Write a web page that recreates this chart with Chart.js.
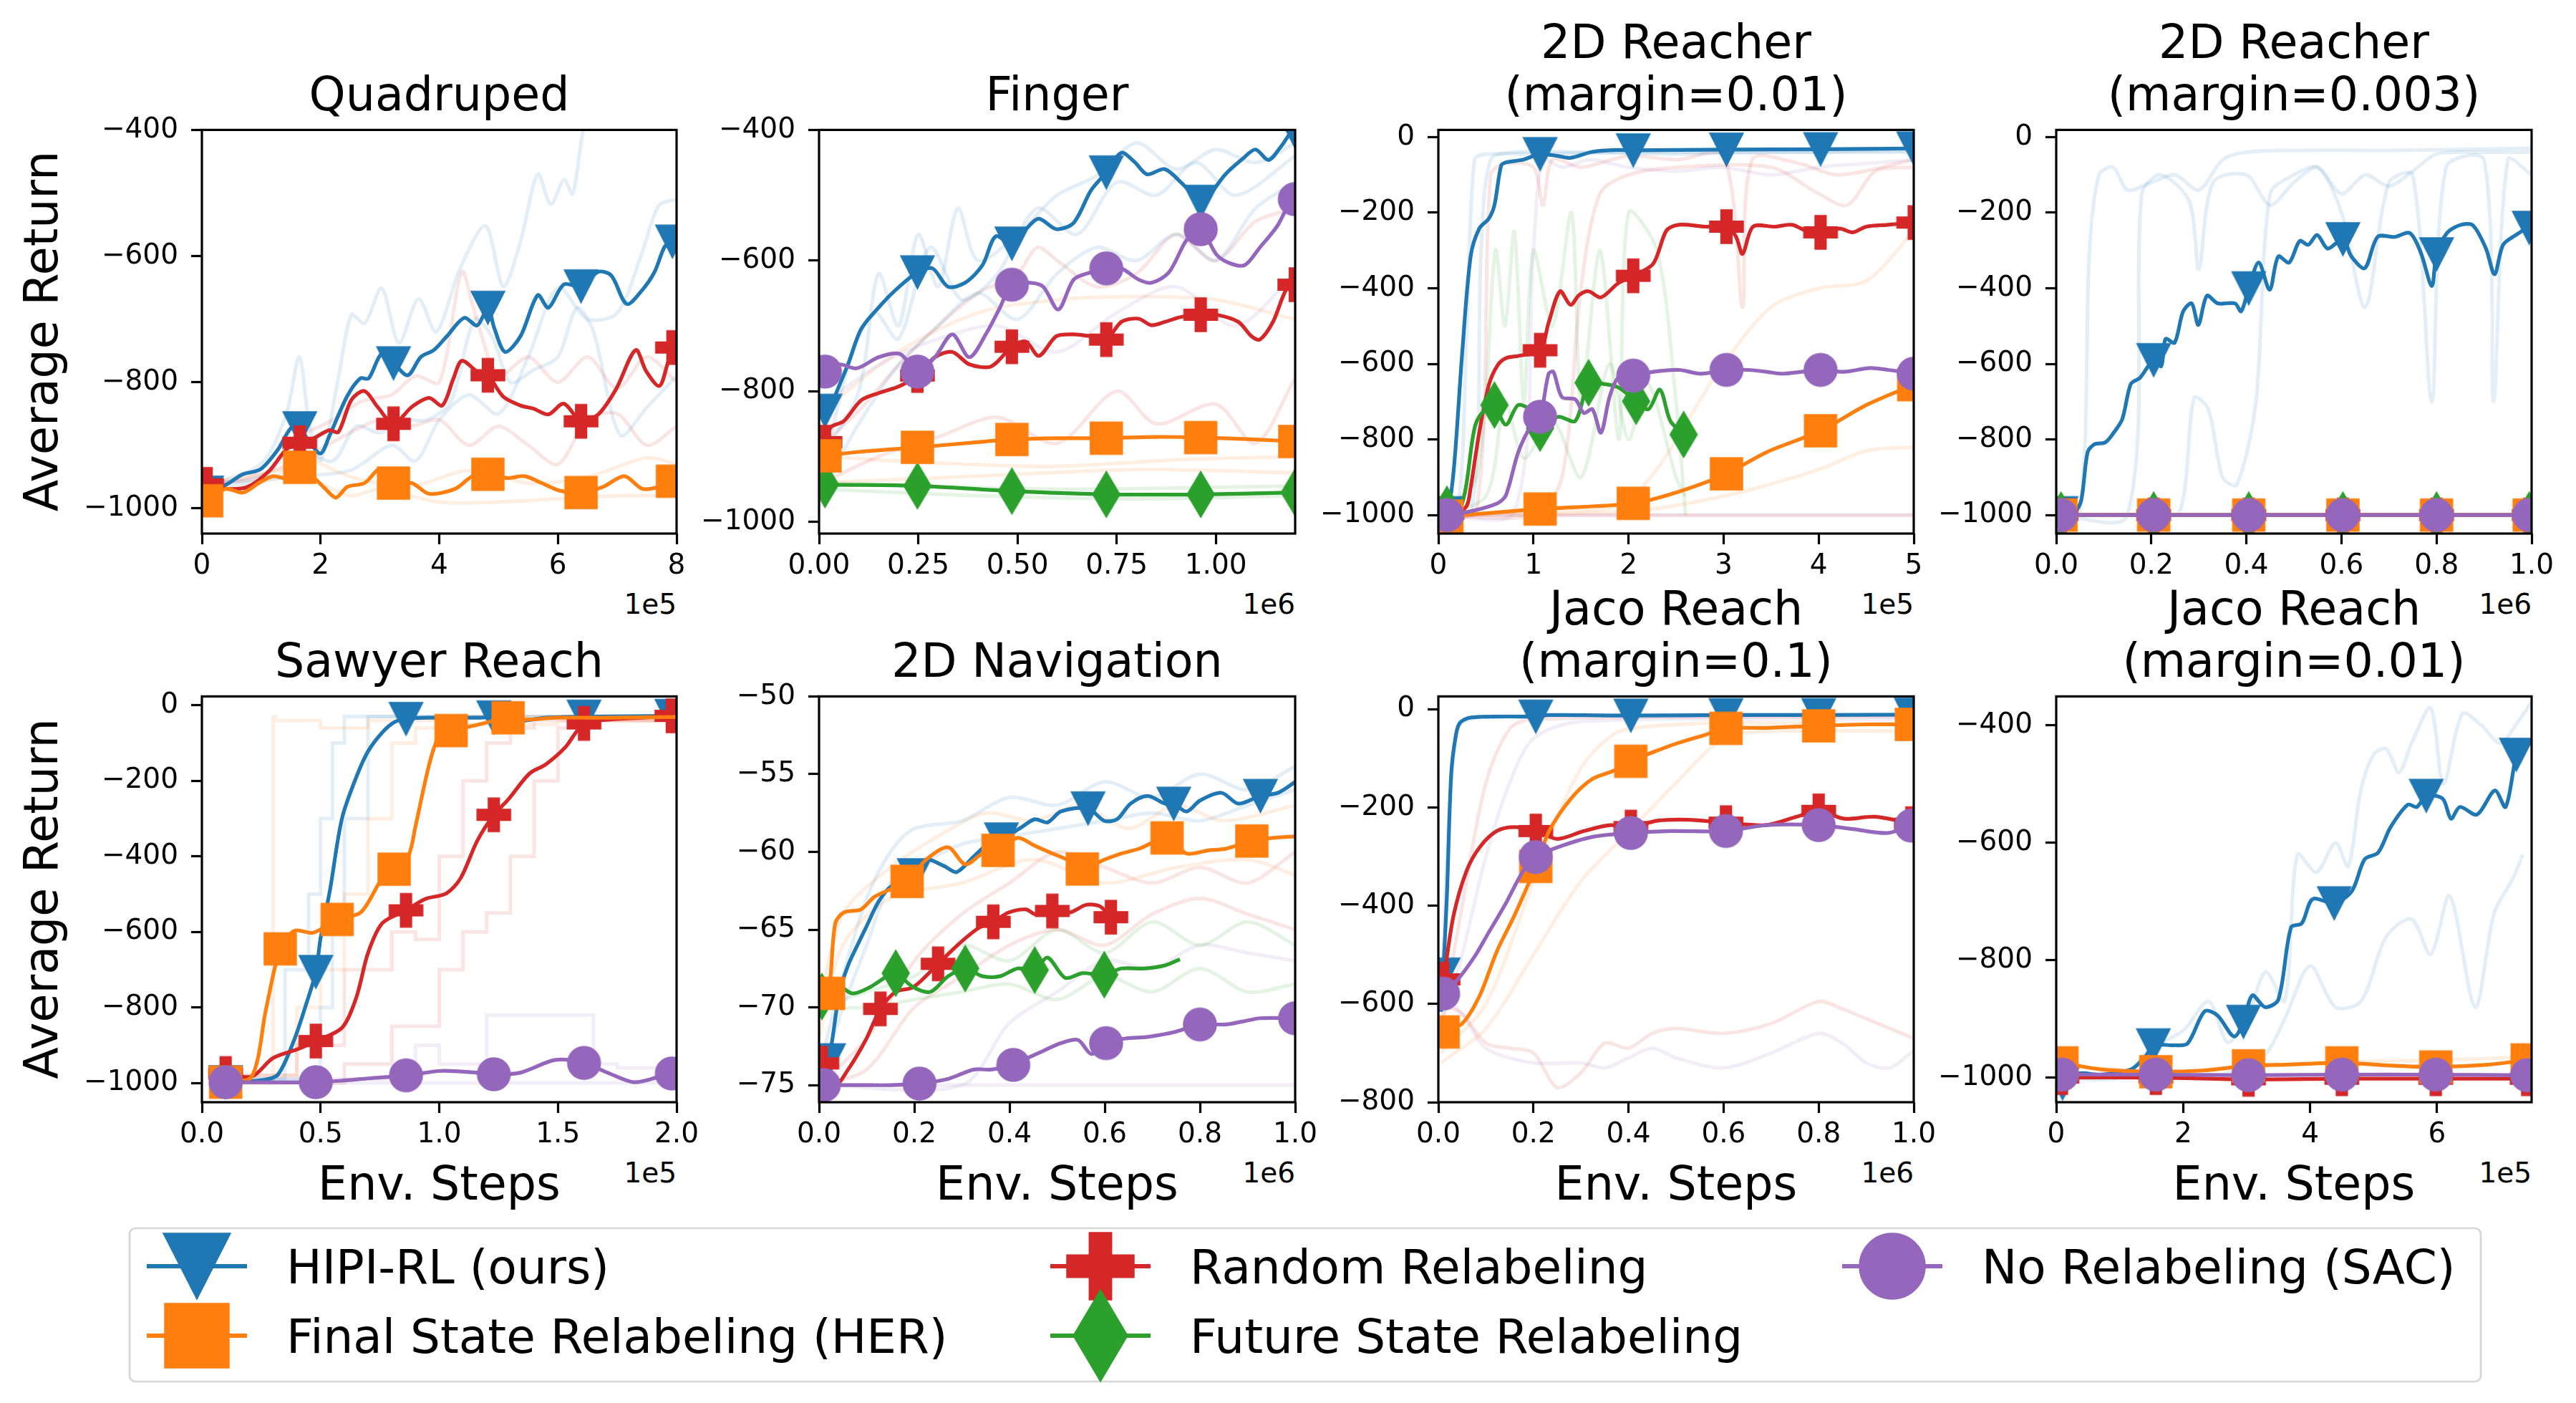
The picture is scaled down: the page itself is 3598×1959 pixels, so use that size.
<!DOCTYPE html>
<html><head><meta charset="utf-8">
<script src="https://cdn.jsdelivr.net/npm/chart.js@4"></script>
<style>
html,body{margin:0;padding:0;background:#fff;}
#page{position:relative;width:3598px;height:1959px;overflow:hidden;background:#fff;}
#ov{position:absolute;left:0;top:0;}
</style></head>
<body><div id="page"><svg id="ov" width="3598" height="1959" xmlns="http://www.w3.org/2000/svg"></svg></div>
<script>
// ---------------- DATA ----------------
const LEGEND_LABELS = ['HIPI-RL (ours)','Final State Relabeling (HER)','Random Relabeling','Future State Relabeling','No Relabeling (SAC)'];
const LEGEND_KEYS = ['hipi','her','rand','fut','sac'];
const Y_LABEL = 'Average Return';
const X_LABEL = 'Env. Steps';

// Quadruped (x in 1e5)
const QUAD_XT=[0,2,4,6,8], QUAD_XL=['0','2','4','6','8'];
const QUAD_YT=[-1000,-800,-600,-400], QUAD_YL=['\u22121000','\u2212800','\u2212600','\u2212400'];
const QUAD_MK=[0.08,1.65,3.23,4.82,6.39,7.93];
const QUAD_HIPI=[[0,-978],[0.08,-975],[0.4,-963],[0.69,-946],[0.99,-938],[1.28,-907],[1.5,-873],[1.65,-873],[1.8,-893],[2.0,-913],[2.15,-885],[2.45,-822],[2.67,-794],[2.81,-794],[3.03,-755],[3.23,-770],[3.47,-789],[3.69,-760],[3.91,-749],[4.13,-727],[4.42,-698],[4.64,-710],[4.82,-682],[4.93,-715],[5.11,-752],[5.37,-727],[5.66,-662],[5.84,-682],[6.1,-645],[6.39,-648],[6.68,-625],[6.9,-631],[7.16,-676],[7.42,-654],[7.63,-625],[7.8,-585],[7.93,-577],[8.0,-591]];
const QUAD_RAND=[[0,-958],[0.08,-962],[0.4,-969],[0.77,-966],[1.13,-941],[1.42,-907],[1.65,-896],[1.86,-890],[2.15,-876],[2.3,-879],[2.52,-828],[2.74,-814],[2.96,-839],[3.23,-866],[3.54,-839],[3.83,-825],[4.05,-837],[4.24,-794],[4.38,-766],[4.64,-783],[4.82,-789],[5.08,-823],[5.37,-837],[5.59,-842],[5.84,-851],[6.1,-834],[6.39,-862],[6.68,-851],[6.98,-811],[7.31,-749],[7.49,-783],[7.71,-806],[7.85,-770],[7.93,-745],[8.0,-727]];
const QUAD_HER=[[0,-986],[0.08,-988],[0.4,-969],[0.69,-975],[0.99,-958],[1.2,-949],[1.42,-952],[1.65,-935],[1.86,-949],[2.08,-969],[2.26,-983],[2.45,-966],[2.74,-960],[3.0,-938],[3.23,-960],[3.54,-960],[3.83,-977],[4.27,-969],[4.56,-949],[4.82,-946],[5.15,-952],[5.44,-949],[5.73,-960],[6.03,-972],[6.39,-975],[6.76,-966],[7.12,-949],[7.42,-969],[7.71,-966],[7.93,-957],[8.0,-955]];
const QUAD_FB1=[[0.05,-965],[0.99,-930],[1.42,-851],[1.64,-760],[1.8,-860],[2.0,-924],[2.3,-794],[2.52,-693],[2.74,-707],[3.03,-651],[3.32,-738],[3.65,-668],[3.95,-720],[4.35,-620],[4.78,-552],[5.08,-648],[5.37,-577],[5.66,-470],[5.88,-518],[6.1,-479],[6.25,-501],[6.43,-400],[6.7,-330],[8.0,-300]];
const QUAD_FB2=[[0.05,-960],[1.0,-950],[1.6,-905],[2.2,-925],[2.6,-870],[3.0,-880],[3.4,-860],[3.8,-860],[4.2,-830],[4.6,-700],[4.9,-730],[5.2,-800],[5.6,-780],[6.0,-760],[6.32,-682],[6.6,-720],[7.05,-884],[7.5,-840],[8.0,-790]];
const QUAD_FB3=[[0.05,-970],[1.5,-950],[2.5,-940],[3.2,-900],[3.6,-925],[4.0,-860],[4.5,-820],[5.0,-850],[5.5,-760],[6.0,-650],[6.5,-700],[7.0,-690],[7.4,-600],[7.7,-520],[8.0,-510]];
const QUAD_FR1=[[0.05,-960],[1.0,-950],[1.6,-890],[2.2,-860],[2.7,-830],[3.2,-820],[3.6,-790],[4.0,-800],[4.38,-625],[4.6,-690],[5.0,-790],[5.5,-760],[6.0,-800],[6.5,-760],[7.0,-810],[7.5,-760],[8.0,-800]];
const QUAD_FR2=[[0.05,-970],[1.5,-930],[2.5,-880],[3.0,-860],[3.5,-870],[4.0,-860],[4.5,-900],[5.0,-870],[5.5,-900],[6.0,-930],[6.5,-860],[7.0,-850],[7.5,-900],[8.0,-870]];
const QUAD_FO1=[[0.05,-975],[1.0,-960],[1.5,-940],[2.0,-960],[2.5,-980],[3.0,-970],[4.0,-990],[5.0,-990],[6.0,-985],[7.0,-980],[8.0,-980]];
const QUAD_FO2=[[0.05,-960],[1.3,-940],[1.7,-920],[2.5,-950],[3.5,-965],[4.5,-940],[5.5,-960],[6.5,-950],[7.5,-920],[8.0,-930]];

// Finger (x in 1e6)
const FING_XT=[0,0.25,0.5,0.75,1.0], FING_XL=['0.00','0.25','0.50','0.75','1.00'];
const FING_YT=[-1000,-800,-600,-400], FING_YL=['\u22121000','\u2212800','\u2212600','\u2212400'];
const FING_MK=[0.015,0.248,0.486,0.724,0.962,1.199];
const FING_HIPI=[[0,-840],[0.015,-830],[0.024,-836],[0.04,-808],[0.073,-759],[0.106,-705],[0.15,-672],[0.193,-645],[0.248,-618],[0.286,-612],[0.325,-640],[0.368,-634],[0.412,-607],[0.445,-563],[0.486,-574],[0.521,-552],[0.554,-536],[0.598,-552],[0.642,-542],[0.685,-493],[0.724,-465],[0.762,-435],[0.795,-449],[0.827,-468],[0.871,-460],[0.915,-482],[0.962,-510],[0.98,-503],[1.024,-468],[1.068,-444],[1.1,-430],[1.133,-446],[1.166,-424],[1.188,-405],[1.199,-402]];
const FING_SAC=[[0,-772],[0.015,-770],[0.051,-759],[0.095,-765],[0.15,-748],[0.204,-743],[0.248,-770],[0.292,-748],[0.336,-713],[0.379,-748],[0.423,-710],[0.456,-672],[0.486,-637],[0.532,-634],[0.565,-640],[0.603,-675],[0.642,-629],[0.685,-618],[0.724,-612],[0.762,-612],[0.805,-629],[0.838,-634],[0.882,-618],[0.926,-569],[0.962,-552],[1.002,-591],[1.035,-604],[1.073,-607],[1.111,-580],[1.155,-547],[1.188,-509],[1.199,-506]];
const FING_RAND=[[0,-885],[0.015,-878],[0.03,-855],[0.062,-846],[0.106,-814],[0.15,-803],[0.204,-792],[0.248,-776],[0.292,-748],[0.336,-740],[0.379,-759],[0.434,-762],[0.486,-732],[0.521,-724],[0.554,-746],[0.598,-716],[0.642,-713],[0.685,-716],[0.724,-721],[0.762,-694],[0.805,-689],[0.838,-699],[0.871,-694],[0.915,-686],[0.962,-683],[1.002,-683],[1.057,-694],[1.09,-716],[1.111,-721],[1.144,-694],[1.177,-645],[1.199,-637]];
const FING_HER=[[0,-900],[0.015,-899],[0.1,-893],[0.248,-886],[0.4,-878],[0.486,-874],[0.6,-872],[0.724,-872],[0.85,-870],[0.962,-871],[1.1,-874],[1.199,-877]];
const FING_FUT=[[0,-942],[0.015,-943],[0.248,-945],[0.486,-953],[0.724,-958],[0.962,-958],[1.199,-955]];
const FING_FB1=[[0.01,-900],[0.1,-800],[0.15,-620],[0.2,-700],[0.25,-560],[0.3,-640],[0.35,-520],[0.4,-600],[0.5,-560],[0.6,-500],[0.7,-470],[0.8,-420],[0.9,-460],[1.0,-430],[1.1,-450],[1.2,-420]];
const FING_FB2=[[0.01,-950],[0.1,-850],[0.2,-760],[0.3,-700],[0.4,-650],[0.5,-690],[0.6,-620],[0.7,-580],[0.8,-600],[0.9,-560],[1.0,-600],[1.1,-520],[1.2,-480]];
const FING_FB3=[[0.01,-920],[0.08,-750],[0.14,-680],[0.2,-720],[0.28,-580],[0.36,-660],[0.45,-620],[0.55,-520],[0.65,-560],[0.75,-480],[0.85,-500],[0.95,-450],[1.05,-500],[1.2,-440]];
const FING_FR1=[[0.01,-880],[0.1,-830],[0.2,-760],[0.3,-700],[0.4,-650],[0.5,-620],[0.55,-580],[0.6,-600],[0.7,-640],[0.8,-620],[0.9,-560],[1.0,-600],[1.1,-540],[1.2,-520]];
const FING_FR2=[[0.01,-940],[0.15,-900],[0.3,-870],[0.45,-840],[0.6,-880],[0.75,-800],[0.85,-850],[1.0,-820],[1.1,-880],[1.2,-780]];
const FING_FS1=[[0.01,-820],[0.15,-760],[0.3,-720],[0.45,-700],[0.6,-740],[0.75,-680],[0.9,-640],[1.05,-700],[1.2,-620]];
const FING_FO1=[[0.01,-830],[0.2,-740],[0.4,-680],[0.6,-660],[0.8,-655],[1.0,-660],[1.2,-690]];
const FING_FO2=[[0.01,-900],[0.3,-910],[0.6,-915],[0.9,-905],[1.2,-900]];
const FING_FO3=[[0.01,-940],[0.4,-930],[0.8,-920],[1.2,-925]];
const FING_FG1=[[0.01,-950],[0.4,-960],[0.8,-965],[1.2,-960]];
const FING_FG2=[[0.01,-940],[0.6,-950],[1.2,-945]];

// 2D Reacher margin=0.01 (x in 1e5)
const R1_XT=[0,1,2,3,4,5], R1_XL=['0','1','2','3','4','5'];
const R_YT=[-1000,-800,-600,-400,-200,0], R_YL=['\u22121000','\u2212800','\u2212600','\u2212400','\u2212200','0'];
const R1_MK=[0.09,1.07,2.05,3.03,4.02,5.0];
const R1_MK_FUT=[0.09,0.59,1.07,1.58,2.08,2.58];
const R1_HIPI=[[0,-1000],[0.09,-995],[0.16,-886],[0.25,-574],[0.34,-315],[0.43,-242],[0.53,-216],[0.59,-180],[0.66,-76],[0.71,-67],[0.89,-60],[1.07,-45],[1.26,-50],[1.39,-55],[1.62,-39],[1.89,-34],[2.05,-35],[3.03,-33],[4.02,-32],[5.0,-30]];
const R1_RAND=[[0,-1000],[0.09,-997],[0.2,-995],[0.3,-975],[0.34,-927],[0.43,-782],[0.53,-657],[0.62,-605],[0.71,-585],[0.84,-579],[1.07,-564],[1.16,-491],[1.28,-408],[1.39,-444],[1.48,-418],[1.58,-408],[1.71,-424],[1.89,-387],[2.05,-367],[2.26,-335],[2.4,-247],[2.53,-232],[2.81,-237],[3.03,-237],[3.13,-263],[3.2,-309],[3.31,-237],[3.54,-237],[3.72,-232],[3.86,-247],[4.02,-252],[4.22,-242],[4.36,-252],[4.5,-237],[4.73,-232],[5.0,-226]];
const R1_SAC=[[0,-1000],[0.09,-1000],[0.34,-990],[0.62,-969],[0.71,-948],[0.84,-834],[0.98,-761],[1.07,-740],[1.16,-626],[1.21,-621],[1.3,-688],[1.44,-694],[1.53,-730],[1.62,-720],[1.71,-782],[1.8,-688],[1.89,-637],[2.05,-631],[2.26,-621],[2.53,-616],[2.76,-626],[3.03,-616],[3.26,-616],[3.45,-621],[3.63,-626],[4.02,-616],[4.27,-621],[4.54,-611],[4.73,-616],[5.0,-626]];
const R1_FUT=[[0,-990],[0.09,-985],[0.25,-969],[0.39,-761],[0.53,-709],[0.59,-709],[0.71,-761],[0.84,-709],[0.98,-725],[1.07,-770],[1.26,-740],[1.44,-751],[1.58,-650],[1.71,-652],[1.89,-662],[2.08,-699],[2.21,-720],[2.33,-668],[2.44,-751],[2.58,-787]];
const R1_HER=[[0,-1000],[0.09,-1003],[1.07,-984],[2.05,-969],[2.53,-938],[3.03,-891],[3.45,-834],[4.02,-777],[4.5,-709],[5.0,-655]];
const R1_FB1=[[0,-1000],[0.2,-990],[0.3,-500],[0.38,-60],[0.5,-45],[1.0,-45],[2.0,-40],[3.0,-40],[4.0,-40],[5.0,-35]];
const R1_FB2=[[0,-1000],[0.35,-990],[0.45,-300],[0.55,-60],[0.8,-40],[1.5,-40],[2.5,-45],[3.5,-40],[5.0,-40]];
const R1_FR1=[[0,-1000],[0.4,-990],[0.55,-100],[0.7,-70],[1.0,-80],[1.1,-180],[1.2,-60],[1.5,-80],[2.0,-50],[2.5,-60],[3.0,-50],[3.2,-450],[3.3,-60],[3.8,-70],[4.2,-100],[5.0,-60]];
const R1_FR2=[[0,-1000],[1.0,-1000],[1.3,-900],[1.5,-400],[1.7,-150],[2.0,-100],[2.5,-80],[3.5,-80],[4.0,-150],[4.3,-180],[4.6,-90],[5.0,-80]];
const R1_FR3=[[0,-1000],[5.0,-1000]];
const R1_FS1=[[0,-1000],[0.8,-990],[1.0,-300],[1.1,-60],[1.3,-80],[1.6,-60],[2.0,-80],[2.5,-90],[3.0,-80],[3.5,-100],[4.0,-80],[4.5,-70],[5.0,-60]];
const R1_FS2=[[0,-1000],[5.0,-1000]];
const R1_FG1=[[0,-1000],[0.4,-900],[0.6,-300],[0.7,-500],[0.8,-250],[0.9,-700],[1.0,-300],[1.2,-500],[1.4,-200],[1.5,-700],[1.7,-300],[1.9,-800],[2.0,-200],[2.3,-300],[2.5,-700],[2.6,-1000]];
const R1_FG2=[[0,-1000],[0.5,-950],[0.7,-700],[0.9,-850],[1.2,-750],[1.5,-900],[1.8,-600],[2.0,-800],[2.2,-650],[2.5,-900],[2.6,-950]];
const R1_FO1=[[0,-1000],[1.0,-990],[2.0,-960],[3.0,-600],[3.5,-450],[4.0,-400],[4.5,-380],[5.0,-250]];
const R1_FO2=[[0,-1000],[2.0,-990],[3.0,-950],[4.0,-880],[4.5,-830],[5.0,-820]];

// 2D Reacher margin=0.003 (x in 1e6)
const R3_XT=[0,0.2,0.4,0.6,0.8,1.0], R3_XL=['0.0','0.2','0.4','0.6','0.8','1.0'];
const R3_MK=[0.01,0.205,0.405,0.603,0.8,0.995];
const R3_HIPI=[[0,-995],[0.01,-995],[0.04,-990],[0.053,-959],[0.066,-834],[0.08,-813],[0.103,-808],[0.121,-782],[0.139,-746],[0.157,-653],[0.176,-637],[0.205,-590],[0.221,-606],[0.23,-534],[0.249,-544],[0.267,-461],[0.285,-440],[0.299,-497],[0.317,-420],[0.34,-440],[0.376,-440],[0.389,-461],[0.405,-400],[0.426,-332],[0.449,-404],[0.467,-316],[0.49,-332],[0.512,-275],[0.53,-285],[0.549,-259],[0.571,-295],[0.603,-270],[0.621,-316],[0.649,-347],[0.676,-264],[0.712,-264],[0.744,-254],[0.767,-306],[0.79,-394],[0.8,-310],[0.822,-254],[0.849,-233],[0.876,-233],[0.904,-295],[0.922,-363],[0.94,-285],[0.967,-259],[0.995,-240],[1.0,-264]];
const R3_FLAT=[[0,-1000],[0.01,-1000],[0.205,-1000],[0.405,-1000],[0.603,-1000],[0.8,-1000],[0.995,-1000],[1.0,-1000]];
const R3_FB1=[[0,-1000],[0.05,-990],[0.07,-300],[0.09,-100],[0.12,-80],[0.15,-140],[0.2,-120],[0.25,-100],[0.3,-140],[0.35,-60],[0.4,-40],[0.5,-35],[0.7,-35],[1.0,-30]];
const R3_FB2=[[0,-1000],[0.15,-1000],[0.18,-150],[0.22,-100],[0.28,-170],[0.3,-350],[0.33,-120],[0.4,-100],[0.45,-180],[0.5,-120],[0.55,-80],[0.6,-150],[0.65,-100],[0.7,-130],[0.75,-90],[0.8,-45],[0.9,-40],[1.0,-40]];
const R3_FB3=[[0,-1000],[0.2,-1000],[0.26,-990],[0.29,-690],[0.32,-720],[0.35,-900],[0.38,-920],[0.42,-700],[0.45,-150],[0.5,-100],[0.55,-80],[0.6,-200],[0.65,-450],[0.7,-120],[0.75,-100],[0.79,-700],[0.82,-80],[0.9,-60],[0.92,-700],[0.95,-60],[1.0,-100]];

// Sawyer Reach (x in 1e5)
const SAW_XT=[0,0.5,1.0,1.5,2.0], SAW_XL=['0.0','0.5','1.0','1.5','2.0'];
const SAW_MK=[0.1,0.48,0.86,1.23,1.61,1.98];
const SAW_MK_HER=[0.1,0.33,0.57,0.81,1.05,1.29];
const SAW_HIPI=[[0.1,-998],[0.25,-993],[0.32,-978],[0.39,-884],[0.44,-790],[0.48,-706],[0.5,-617],[0.54,-488],[0.59,-300],[0.65,-191],[0.7,-122],[0.76,-72],[0.81,-45],[0.86,-36],[0.95,-33],[1.16,-33],[1.23,-32],[1.34,-41],[1.45,-33],[1.61,-30],[1.98,-28],[2.0,-28]];
const SAW_HER=[[0.1,-998],[0.21,-983],[0.27,-805],[0.33,-645],[0.39,-597],[0.47,-602],[0.57,-567],[0.67,-548],[0.76,-458],[0.81,-434],[0.87,-399],[0.9,-320],[0.96,-151],[1.0,-82],[1.05,-67],[1.16,-52],[1.29,-33],[1.37,-38],[1.49,-33],[1.71,-33],[2.0,-31]];
const SAW_RAND=[[0.1,-975],[0.21,-983],[0.3,-934],[0.41,-909],[0.48,-889],[0.59,-854],[0.65,-775],[0.7,-656],[0.76,-577],[0.86,-543],[0.94,-513],[1.03,-498],[1.09,-458],[1.16,-359],[1.23,-290],[1.29,-250],[1.38,-181],[1.45,-156],[1.53,-112],[1.61,-48],[1.71,-38],[1.85,-33],[1.98,-28],[2.0,-28]];
const SAW_SAC=[[0.1,-998],[0.48,-998],[0.61,-993],[0.7,-988],[0.86,-980],[1.01,-968],[1.16,-973],[1.23,-977],[1.34,-973],[1.49,-939],[1.61,-947],[1.71,-973],[1.82,-998],[1.93,-983],[1.98,-975],[2.0,-968]];
const SAW_FO1=[[0.1,-1000],[0.3,-1000],[0.31,-30],[0.5,-40],[0.7,-60],[1.0,-40],[2.0,-30]];
const SAW_FO2=[[0.1,-1000],[0.4,-980],[0.5,-800],[0.6,-700],[0.7,-500],[0.8,-300],[0.9,-100],[1.0,-60],[1.5,-50],[2.0,-40]];
const SAW_FB1=[[0.1,-1000],[0.35,-990],[0.45,-700],[0.5,-500],[0.55,-300],[0.6,-100],[0.65,-30],[2.0,-30]];
const SAW_FB2=[[0.1,-1000],[0.5,-990],[0.55,-800],[0.6,-600],[0.7,-300],[0.8,-30],[2.0,-30]];
const SAW_FR1=[[0.1,-1000],[0.4,-980],[0.6,-900],[0.8,-700],[0.9,-600],[1.0,-620],[1.1,-400],[1.2,-200],[1.3,-100],[1.4,-60],[2.0,-40]];
const SAW_FR2=[[0.1,-1000],[0.6,-1000],[0.8,-950],[1.0,-850],[1.1,-700],[1.2,-600],[1.3,-550],[1.4,-400],[1.5,-200],[1.6,-60],[2.0,-40]];
const SAW_FS1=[[0.1,-1000],[0.9,-990],[1.0,-900],[1.2,-950],[1.45,-820],[1.65,-820],[1.75,-950],[2.0,-960]];
const SAW_FS2=[[0.1,-1000],[2.0,-1000]];

// 2D Navigation (x in 1e6)
const NAV_XT=[0,0.2,0.4,0.6,0.8,1.0], NAV_XL=['0.0','0.2','0.4','0.6','0.8','1.0'];
const NAV_YT=[-75,-70,-65,-60,-55,-50], NAV_YL=['\u221275','\u221270','\u221265','\u221260','\u221255','\u221250'];
const NAV_MK_HIPI=[0.02,0.2,0.383,0.565,0.745,0.927];
const NAV_MK_HER=[0.02,0.185,0.376,0.553,0.731,0.909];
const NAV_MK_RAND=[0.006,0.129,0.25,0.366,0.49,0.613];
const NAV_MK_FUT=[0.006,0.161,0.307,0.453,0.599];
const NAV_MK_SAC=[0.01,0.211,0.408,0.603,0.8,1.0];
const NAV_HIPI=[[0.006,-73.8],[0.02,-73.4],[0.043,-69],[0.061,-67.3],[0.079,-66.1],[0.098,-64.9],[0.125,-63.2],[0.152,-62.2],[0.2,-61.5],[0.225,-60.5],[0.262,-60.9],[0.289,-61.3],[0.325,-60.3],[0.362,-59.3],[0.383,-59.2],[0.426,-58.4],[0.453,-57.9],[0.48,-58.1],[0.508,-57.4],[0.565,-57.2],[0.599,-58.0],[0.626,-57.9],[0.654,-56.9],[0.69,-56.4],[0.727,-56.9],[0.745,-56.9],[0.772,-57.4],[0.8,-56.7],[0.845,-56.2],[0.881,-56.9],[0.927,-56.4],[0.964,-56.2],[1.0,-55.5]];
const NAV_HER=[[0.006,-69.2],[0.02,-69.1],[0.034,-64.6],[0.052,-63.9],[0.088,-63.7],[0.116,-62.9],[0.143,-62.5],[0.185,-61.9],[0.225,-60.5],[0.271,-59.7],[0.307,-60.8],[0.344,-60.1],[0.376,-59.9],[0.417,-59.1],[0.453,-59.6],[0.49,-60.1],[0.521,-60.5],[0.553,-61.1],[0.599,-60.5],[0.635,-60.1],[0.672,-59.8],[0.731,-59.1],[0.772,-60.1],[0.818,-59.9],[0.854,-59.8],[0.909,-59.3],[0.954,-59.1],[1.0,-59.0]];
const NAV_RAND=[[0.006,-73.6],[0.034,-75],[0.061,-74],[0.098,-72.1],[0.129,-70.1],[0.161,-69],[0.198,-68.7],[0.25,-67.2],[0.298,-65.8],[0.335,-64.9],[0.366,-64.5],[0.398,-63.9],[0.435,-63.7],[0.453,-64.0],[0.49,-63.8],[0.526,-63.9],[0.562,-63.4],[0.59,-63.5],[0.613,-64.2]];
const NAV_FUT=[[0.006,-69.3],[0.034,-68.5],[0.07,-69.1],[0.107,-68.7],[0.143,-68.0],[0.161,-67.8],[0.198,-68.7],[0.234,-69],[0.271,-68],[0.307,-67.5],[0.344,-68],[0.38,-68],[0.417,-67.5],[0.453,-67.6],[0.48,-66.8],[0.517,-68.1],[0.553,-67.8],[0.599,-67.9],[0.635,-67.5],[0.681,-67.5],[0.727,-67.3],[0.758,-66.9]];
const NAV_SAC=[[0.01,-75],[0.088,-75],[0.152,-75],[0.211,-74.9],[0.271,-74.6],[0.325,-74],[0.362,-74],[0.408,-73.7],[0.435,-73.3],[0.471,-72.8],[0.508,-72.3],[0.544,-72.1],[0.572,-73],[0.603,-72.3],[0.644,-72],[0.69,-71.9],[0.745,-71.6],[0.8,-71.1],[0.854,-71.1],[0.891,-70.9],[0.927,-70.7],[1.0,-70.7]];
const NAV_FB1=[[0,-74],[0.05,-68],[0.1,-63],[0.15,-60],[0.2,-58.5],[0.3,-58],[0.4,-56.5],[0.5,-57],[0.6,-55.5],[0.7,-56.5],[0.8,-55],[0.9,-56],[1.0,-54.5]];
const NAV_FB2=[[0,-75],[0.05,-70],[0.1,-66],[0.15,-62],[0.2,-61],[0.3,-59.5],[0.4,-59],[0.5,-58.5],[0.6,-58],[0.7,-57.5],[0.8,-58],[0.9,-57],[1.0,-56]];
const NAV_FO1=[[0,-70],[0.05,-64],[0.15,-61],[0.25,-59],[0.35,-57.5],[0.45,-58],[0.55,-57],[0.65,-58.5],[0.75,-57],[0.85,-58],[1.0,-57]];
const NAV_FO2=[[0,-72],[0.05,-66],[0.15,-63],[0.3,-62],[0.45,-60.5],[0.6,-62],[0.75,-61],[0.9,-60.5],[1.0,-61.5]];
const NAV_FR1=[[0,-75],[0.1,-72],[0.2,-67],[0.3,-64],[0.4,-62],[0.5,-60],[0.6,-61],[0.7,-62],[0.8,-61],[0.9,-62],[1.0,-60]];
const NAV_FR2=[[0,-75],[0.1,-74],[0.2,-70],[0.3,-68],[0.4,-66],[0.5,-65],[0.6,-66],[0.7,-64],[0.8,-63],[0.9,-64],[1.0,-65]];
const NAV_FG1=[[0,-70],[0.1,-69],[0.2,-68],[0.3,-66],[0.4,-67],[0.5,-65],[0.6,-66.5],[0.7,-64.5],[0.8,-66],[0.9,-64.5],[1.0,-66]];
const NAV_FG2=[[0,-70],[0.1,-70],[0.2,-69.5],[0.3,-69],[0.4,-68.5],[0.5,-69.5],[0.6,-68],[0.7,-69],[0.8,-67.5],[0.9,-69],[1.0,-68.5]];
const NAV_FS1=[[0,-75],[1.0,-75]];
const NAV_FS2=[[0,-75],[0.3,-75],[0.4,-71],[0.5,-69],[0.6,-67],[0.7,-67.5],[0.8,-66],[0.9,-66.5],[1.0,-67]];

// Jaco Reach margin=0.1 (x in 1e6)
const J1_XT=[0,0.2,0.4,0.6,0.8,1.0], J1_XL=['0.0','0.2','0.4','0.6','0.8','1.0'];
const J1_YT=[-800,-600,-400,-200,0], J1_YL=['\u2212800','\u2212600','\u2212400','\u2212200','0'];
const J1_MK=[0.01,0.205,0.405,0.605,0.8,0.995];
const J1_HIPI=[[0.005,-616],[0.01,-540],[0.018,-379],[0.027,-133],[0.037,-52],[0.046,-27],[0.068,-17],[0.142,-15],[0.205,-15],[0.233,-12],[0.405,-13],[0.605,-12],[0.8,-12],[0.995,-11],[1.0,-11]];
const J1_HER=[[0.005,-657],[0.01,-657],[0.05,-640],[0.087,-583],[0.123,-493],[0.16,-420],[0.205,-320],[0.233,-248],[0.279,-182],[0.324,-142],[0.37,-125],[0.405,-106],[0.461,-84],[0.507,-68],[0.562,-52],[0.605,-39],[0.689,-38],[0.8,-34],[0.9,-31],[0.995,-31],[1.0,-31]];
const J1_RAND=[[0.005,-545],[0.01,-550],[0.032,-420],[0.059,-330],[0.087,-281],[0.123,-248],[0.16,-240],[0.205,-248],[0.251,-264],[0.306,-248],[0.361,-236],[0.405,-240],[0.461,-227],[0.525,-225],[0.605,-231],[0.689,-236],[0.753,-219],[0.8,-207],[0.854,-223],[0.918,-219],[0.995,-233],[1.0,-236]];
const J1_SAC=[[0.005,-579],[0.01,-579],[0.041,-550],[0.078,-501],[0.105,-456],[0.142,-395],[0.178,-330],[0.205,-301],[0.251,-281],[0.324,-260],[0.405,-252],[0.489,-248],[0.605,-248],[0.689,-236],[0.8,-236],[0.872,-244],[0.945,-252],[0.995,-237],[1.0,-236]];
const J1_FB1=[[0.005,-610],[0.04,-40],[0.1,-15],[1.0,-12]];
const J1_FR1=[[0.005,-650],[0.05,-400],[0.1,-150],[0.15,-40],[0.2,-20],[1.0,-15]];
const J1_FS1=[[0.005,-650],[0.05,-500],[0.1,-300],[0.15,-150],[0.2,-60],[0.3,-25],[1.0,-20]];
const J1_FO1=[[0.005,-700],[0.1,-600],[0.2,-350],[0.3,-120],[0.4,-40],[1.0,-30]];
const J1_FO2=[[0.005,-720],[0.1,-650],[0.2,-500],[0.3,-350],[0.4,-250],[0.5,-150],[0.6,-60],[0.7,-45],[1.0,-45]];
const J1_FR2=[[0.005,-600],[0.05,-620],[0.1,-680],[0.15,-690],[0.2,-700],[0.25,-770],[0.3,-740],[0.35,-680],[0.4,-690],[0.45,-660],[0.5,-650],[0.6,-660],[0.7,-640],[0.8,-595],[0.85,-610],[0.9,-630],[1.0,-670]];
const J1_FS2=[[0.005,-580],[0.05,-620],[0.1,-690],[0.2,-720],[0.3,-720],[0.35,-730],[0.4,-710],[0.45,-690],[0.5,-710],[0.6,-730],[0.7,-700],[0.8,-660],[0.85,-680],[0.9,-720],[0.95,-730],[1.0,-695]];

// Jaco Reach margin=0.01 (x in 1e5)
const J2_XT=[0,2,4,6], J2_XL=['0','2','4','6'];
const J2_YT=[-1000,-800,-600,-400], J2_YL=['\u22121000','\u2212800','\u2212600','\u2212400'];
const J2_MK=[0.09,1.57,3.03,4.5,5.98,7.42];
const J2_MK_HIPI=[0.1,1.53,2.95,4.38,5.83,7.25];
const J2_HIPI=[[0.05,-1017],[0.1,-1010],[0.36,-993],[0.7,-995],[1.18,-986],[1.42,-962],[1.53,-945],[1.86,-945],[2.07,-942],[2.34,-887],[2.54,-894],[2.8,-930],[2.95,-905],[3.09,-860],[3.29,-880],[3.5,-867],[3.7,-744],[3.87,-737],[4.04,-696],[4.38,-703],[4.66,-682],[4.86,-628],[5.07,-617],[5.27,-573],[5.54,-535],[5.68,-539],[5.83,-520],[6.09,-525],[6.22,-559],[6.36,-539],[6.63,-552],[6.91,-511],[7.08,-539],[7.25,-450],[7.32,-443],[7.49,-423]];
const J2_HER=[[0.05,-975],[0.09,-975],[0.7,-986],[1.57,-990],[2.3,-988],[3.03,-980],[3.63,-978],[4.5,-975],[5.34,-980],[5.98,-982],[6.8,-978],[7.42,-970],[7.49,-968]];
const J2_SAC=[[0.05,-995],[0.09,-995],[1.57,-995],[3.03,-996],[4.5,-995],[5.98,-995],[7.42,-996],[7.49,-996]];
const J2_RAND=[[0.05,-1000],[0.09,-1000],[1.57,-1000],[3.03,-1003],[4.5,-1002],[5.98,-1002],[7.42,-1002],[7.49,-1002]];
const J2_FB1=[[0.05,-1000],[1.0,-1000],[1.5,-950],[2.0,-920],[2.4,-870],[2.7,-940],[3.0,-900],[3.3,-820],[3.6,-870],[3.8,-620],[4.1,-650],[4.4,-600],[4.6,-640],[4.8,-510],[5.0,-450],[5.2,-440],[5.4,-480],[5.6,-430],[5.9,-370],[6.1,-500],[6.4,-380],[6.7,-400],[7.0,-430],[7.3,-390],[7.49,-360]];
const J2_FB2=[[0.05,-1000],[2.0,-1000],[2.8,-990],[3.3,-960],[3.6,-900],[4.0,-810],[4.4,-880],[4.8,-870],[5.2,-760],[5.6,-730],[5.9,-790],[6.2,-690],[6.6,-880],[6.9,-720],[7.2,-660],[7.35,-620]];
const J2_FO1=[[0.05,-980],[2,-990],[4,-975],[6,-970],[7.49,-965]];

// ---------------- LAYOUT / STYLE ----------------
const COLORS={hipi:'#1f77b4',her:'#ff7f0e',rand:'#d62728',fut:'#2ca02c',sac:'#9467bd'};
const RGB={hipi:[31,119,180],her:[255,127,14],rand:[214,39,40],fut:[44,160,44],sac:[148,103,189]};
const SHAPE={hipi:'tri',her:'sq',rand:'plus',fut:'dia',sac:'circ'};
const ORDER={hipi:5,rand:4,fut:3,her:2,sac:1};
const MSIZE={tri:[47,46],sq:[45,45],circ:[46,46],plus:[47,47],dia:[38,64]};

const PANELS=[
 {box:[282,180,945,745],x:[0,8],y:[-1040,-400],xt:QUAD_XT,xl:QUAD_XL,yt:QUAD_YT,yl:QUAD_YL,title:['Quadruped'],off:'1e5',ylab:true,xlab:false,
  series:[['hipi',QUAD_HIPI,QUAD_MK],['rand',QUAD_RAND,QUAD_MK],['her',QUAD_HER,QUAD_MK]],
  faint:[['hipi',QUAD_FB1],['hipi',QUAD_FB2],['hipi',QUAD_FB3],['rand',QUAD_FR1],['rand',QUAD_FR2],['her',QUAD_FO1],['her',QUAD_FO2]]},
 {box:[1144,180,1809,745],x:[0,1.2],y:[-1018,-400],xt:FING_XT,xl:FING_XL,yt:FING_YT,yl:FING_YL,title:['Finger'],off:'1e6',ylab:false,xlab:false,
  series:[['hipi',FING_HIPI,FING_MK],['rand',FING_RAND,FING_MK],['fut',FING_FUT,FING_MK],['her',FING_HER,FING_MK],['sac',FING_SAC,FING_MK]],
  faint:[['hipi',FING_FB1],['hipi',FING_FB2],['hipi',FING_FB3],['rand',FING_FR1],['rand',FING_FR2],['sac',FING_FS1],['her',FING_FO1],['her',FING_FO2],['her',FING_FO3],['fut',FING_FG1],['fut',FING_FG2]]},
 {box:[2009,180,2673,745],x:[0,5],y:[-1049,19],xt:R1_XT,xl:R1_XL,yt:R_YT,yl:R_YL,title:['2D Reacher','(margin=0.01)'],off:'1e5',ylab:false,xlab:false,
  series:[['hipi',R1_HIPI,R1_MK],['rand',R1_RAND,R1_MK],['fut',R1_FUT,R1_MK_FUT],['her',R1_HER,R1_MK],['sac',R1_SAC,R1_MK]],
  faint:[['hipi',R1_FB1],['hipi',R1_FB2],['rand',R1_FR1],['rand',R1_FR2],['rand',R1_FR3],['sac',R1_FS1],['sac',R1_FS2],['fut',R1_FG1],['fut',R1_FG2],['her',R1_FO1],['her',R1_FO2]]},
 {box:[2872,180,3536,745],x:[0,1],y:[-1049,19],xt:R3_XT,xl:R3_XL,yt:R_YT,yl:R_YL,title:['2D Reacher','(margin=0.003)'],off:'1e6',ylab:false,xlab:false,
  series:[['hipi',R3_HIPI,R3_MK],['rand',R3_FLAT,R3_MK],['fut',R3_FLAT,R3_MK],['her',R3_FLAT,R3_MK],['sac',R3_FLAT,R3_MK]],
  faint:[['hipi',R3_FB1],['hipi',R3_FB2],['hipi',R3_FB3]]},
 {box:[282,971,945,1539],x:[0,2],y:[-1051,23.5],xt:SAW_XT,xl:SAW_XL,yt:R_YT,yl:R_YL,title:['Sawyer Reach'],off:'1e5',ylab:true,xlab:true,stepFaint:true,
  series:[['hipi',SAW_HIPI,SAW_MK],['rand',SAW_RAND,SAW_MK],['her',SAW_HER,SAW_MK_HER],['sac',SAW_SAC,SAW_MK]],
  faint:[['her',SAW_FO1],['her',SAW_FO2],['hipi',SAW_FB1],['hipi',SAW_FB2],['rand',SAW_FR1],['rand',SAW_FR2],['sac',SAW_FS1],['sac',SAW_FS2]]},
 {box:[1144,971,1809,1539],x:[0,1],y:[-76.1,-50],xt:NAV_XT,xl:NAV_XL,yt:NAV_YT,yl:NAV_YL,title:['2D Navigation'],off:'1e6',ylab:false,xlab:true,
  series:[['hipi',NAV_HIPI,NAV_MK_HIPI],['rand',NAV_RAND,NAV_MK_RAND],['fut',NAV_FUT,NAV_MK_FUT],['her',NAV_HER,NAV_MK_HER],['sac',NAV_SAC,NAV_MK_SAC]],
  faint:[['hipi',NAV_FB1],['hipi',NAV_FB2],['her',NAV_FO1],['her',NAV_FO2],['rand',NAV_FR1],['rand',NAV_FR2],['fut',NAV_FG1],['fut',NAV_FG2],['sac',NAV_FS1],['sac',NAV_FS2]]},
 {box:[2009,971,2673,1539],x:[0,1],y:[-800,26],xt:J1_XT,xl:J1_XL,yt:J1_YT,yl:J1_YL,title:['Jaco Reach','(margin=0.1)'],off:'1e6',ylab:false,xlab:true,
  series:[['hipi',J1_HIPI,J1_MK],['rand',J1_RAND,J1_MK],['her',J1_HER,J1_MK],['sac',J1_SAC,J1_MK]],
  faint:[['hipi',J1_FB1],['rand',J1_FR1],['sac',J1_FS1],['her',J1_FO1],['her',J1_FO2],['rand',J1_FR2],['sac',J1_FS2]]},
 {box:[2872,971,3536,1539],x:[0,7.49],y:[-1042,-350.6],xt:J2_XT,xl:J2_XL,yt:J2_YT,yl:J2_YL,title:['Jaco Reach','(margin=0.01)'],off:'1e5',ylab:false,xlab:true,
  series:[['hipi',J2_HIPI,J2_MK_HIPI],['rand',J2_RAND,J2_MK],['her',J2_HER,J2_MK],['sac',J2_SAC,J2_MK]],
  faint:[['hipi',J2_FB1],['hipi',J2_FB2],['her',J2_FO1]]}
];

const FONT='DejaVu Sans';
const page=document.getElementById('page');
const svg=document.getElementById('ov');
const NS='http://www.w3.org/2000/svg';

function markerCanvas(shape,color,scale){
  const s=MSIZE[shape], w=s[0]*scale, h=s[1]*scale;
  const c=document.createElement('canvas');
  c.width=Math.ceil(w+4); c.height=Math.ceil(h+4);
  const g=c.getContext('2d');
  g.translate(c.width/2,c.height/2);
  g.fillStyle=color; g.strokeStyle=color; g.lineWidth=1.5; g.lineJoin='miter';
  g.beginPath(); markerPath(g,shape,w,h); g.fill(); g.stroke();
  return c;
}
function markerPath(g,shape,w,h){
  if(shape==='tri'){g.moveTo(-w/2,-h/2);g.lineTo(w/2,-h/2);g.lineTo(0,h/2);g.closePath();}
  else if(shape==='sq'){g.rect(-w/2,-h/2,w,h);}
  else if(shape==='circ'){g.arc(0,0,w/2,0,Math.PI*2);}
  else if(shape==='dia'){g.moveTo(0,-h/2);g.lineTo(w/2,0);g.lineTo(0,h/2);g.lineTo(-w/2,0);g.closePath();}
  else if(shape==='plus'){const a=w/2,b=w/6;
    g.moveTo(-b,-a);g.lineTo(b,-a);g.lineTo(b,-b);g.lineTo(a,-b);g.lineTo(a,b);g.lineTo(b,b);g.lineTo(b,a);g.lineTo(-b,a);g.lineTo(-b,b);g.lineTo(-a,b);g.lineTo(-a,-b);g.lineTo(-b,-b);g.closePath();}
}
function rgba(k,a){const c=RGB[k];return `rgba(${c[0]},${c[1]},${c[2]},${a})`;}
function toXY(d){return d.map(p=>({x:p[0],y:p[1]}));}
function svgText(txt,x,y,size,anchor,rot){
  const t=document.createElementNS(NS,'text');
  t.setAttribute('font-family',FONT); t.setAttribute('font-size',size); t.setAttribute('fill','#000');
  t.setAttribute('text-anchor',anchor||'middle');
  if(rot){t.setAttribute('transform',`translate(${x},${y}) rotate(${rot})`);t.setAttribute('x',0);t.setAttribute('y',0);}
  else{t.setAttribute('x',x);t.setAttribute('y',y);}
  t.textContent=txt; svg.appendChild(t); return t;
}

const framePlugin={id:'frame',afterDatasetsDraw(chart){const a=chart.chartArea,c=chart.ctx;c.save();c.strokeStyle='#000';c.lineWidth=3.2;c.strokeRect(a.left,a.top,a.right-a.left,a.bottom-a.top);c.restore();}};

const PL=180,PT=40,PR=60,PB=80;
PANELS.forEach(p=>{
  const [L,T,R,B]=p.box;
  const cv=document.createElement('canvas');
  const W=R-L+PL+PR, H=B-T+PT+PB;
  cv.width=W; cv.height=H;
  cv.style.cssText=`position:absolute;left:${L-PL}px;top:${T-PT}px;width:${W}px;height:${H}px;`;
  page.appendChild(cv);
  const ds=[];
  p.faint.forEach(([k,d])=>ds.push({data:toXY(d),borderColor:rgba(k,0.12),borderWidth:5,pointRadius:0,tension:0.3,order:10,clip:0,stepped:p.stepFaint?'after':false}));
  p.series.forEach(([k,d,mk])=>{
    const img=markerCanvas(SHAPE[k],COLORS[k],1);
    ds.push({data:toXY(d),borderColor:COLORS[k],borderWidth:5.2,tension:0.3,order:ORDER[k],clip:0,
      pointStyle:img,pointRadius:ctx=>(ctx.raw&&mk.includes(ctx.raw.x))?22:0,pointHoverRadius:0});
  });
  const tickFont={family:FONT,size:39};
  new Chart(cv,{type:'line',data:{datasets:ds},
    options:{responsive:false,animation:false,events:[],
      layout:{padding:{left:0,top:PT,right:PR,bottom:0}},
      plugins:{legend:{display:false},tooltip:{enabled:false}},
      scales:{
        x:{type:'linear',min:p.x[0],max:p.x[1],
          afterFit:s=>{s.height=PB;},
          afterBuildTicks:s=>{s.ticks=p.xt.map(v=>({value:v}));},
          ticks:{autoSkip:false,maxRotation:0,minRotation:0,padding:7,color:'#000',font:tickFont,callback:(v,i)=>p.xl[i]},
          grid:{drawOnChartArea:false,drawTicks:true,tickLength:15,tickWidth:3.2,tickColor:'#000'},border:{display:false}},
        y:{type:'linear',min:p.y[0],max:p.y[1],
          afterFit:s=>{s.width=PL;},
          afterBuildTicks:s=>{s.ticks=p.yt.map(v=>({value:v}));},
          ticks:{autoSkip:false,padding:18,color:'#000',font:tickFont,callback:(v,i)=>p.yl[i]},
          grid:{drawOnChartArea:false,drawTicks:true,tickLength:15,tickWidth:3.2,tickColor:'#000'},border:{display:false}}
      }},
    plugins:[framePlugin]});
  const cx=(L+R)/2;
  const n=p.title.length;
  p.title.forEach((t,i)=>svgText(t,cx,T-26-(n-1-i)*73,65,'middle'));
  svgText(p.off,R,B+112,39,'end');
  if(p.ylab) svgText(Y_LABEL,80,(T+B)/2,65,'middle',-90);
  if(p.xlab) svgText(X_LABEL,cx,B+136,65,'middle');
});

// ---------------- LEGEND ----------------
(function(){
  const box=document.createElementNS(NS,'rect');
  box.setAttribute('x',181);box.setAttribute('y',1715);box.setAttribute('width',3284);box.setAttribute('height',214);
  box.setAttribute('rx',8);box.setAttribute('fill','#fff');box.setAttribute('stroke','#d6d6d6');box.setAttribute('stroke-width',2.7);
  svg.appendChild(box);
  const colX=[275,1537,2643], rowY=[1768,1865];
  const pos=[[0,0],[0,1],[1,0],[1,1],[2,0]];
  LEGEND_KEYS.forEach((k,i)=>{
    const cx=colX[pos[i][0]], cy=rowY[pos[i][1]];
    const ln=document.createElementNS(NS,'line');
    ln.setAttribute('x1',cx-70);ln.setAttribute('x2',cx+70);ln.setAttribute('y1',cy);ln.setAttribute('y2',cy);
    ln.setAttribute('stroke',COLORS[k]);ln.setAttribute('stroke-width',6);
    svg.appendChild(ln);
    const mc=markerCanvas(SHAPE[k],COLORS[k],2);
    const im=document.createElementNS(NS,'image');
    im.setAttribute('href',mc.toDataURL());
    im.setAttribute('x',cx-mc.width/2);im.setAttribute('y',cy-mc.height/2);
    im.setAttribute('width',mc.width);im.setAttribute('height',mc.height);
    svg.appendChild(im);
    svgText(LEGEND_LABELS[i],cx+125,cy+23.5,66,'start');
  });
})();
</script>
</body></html>
